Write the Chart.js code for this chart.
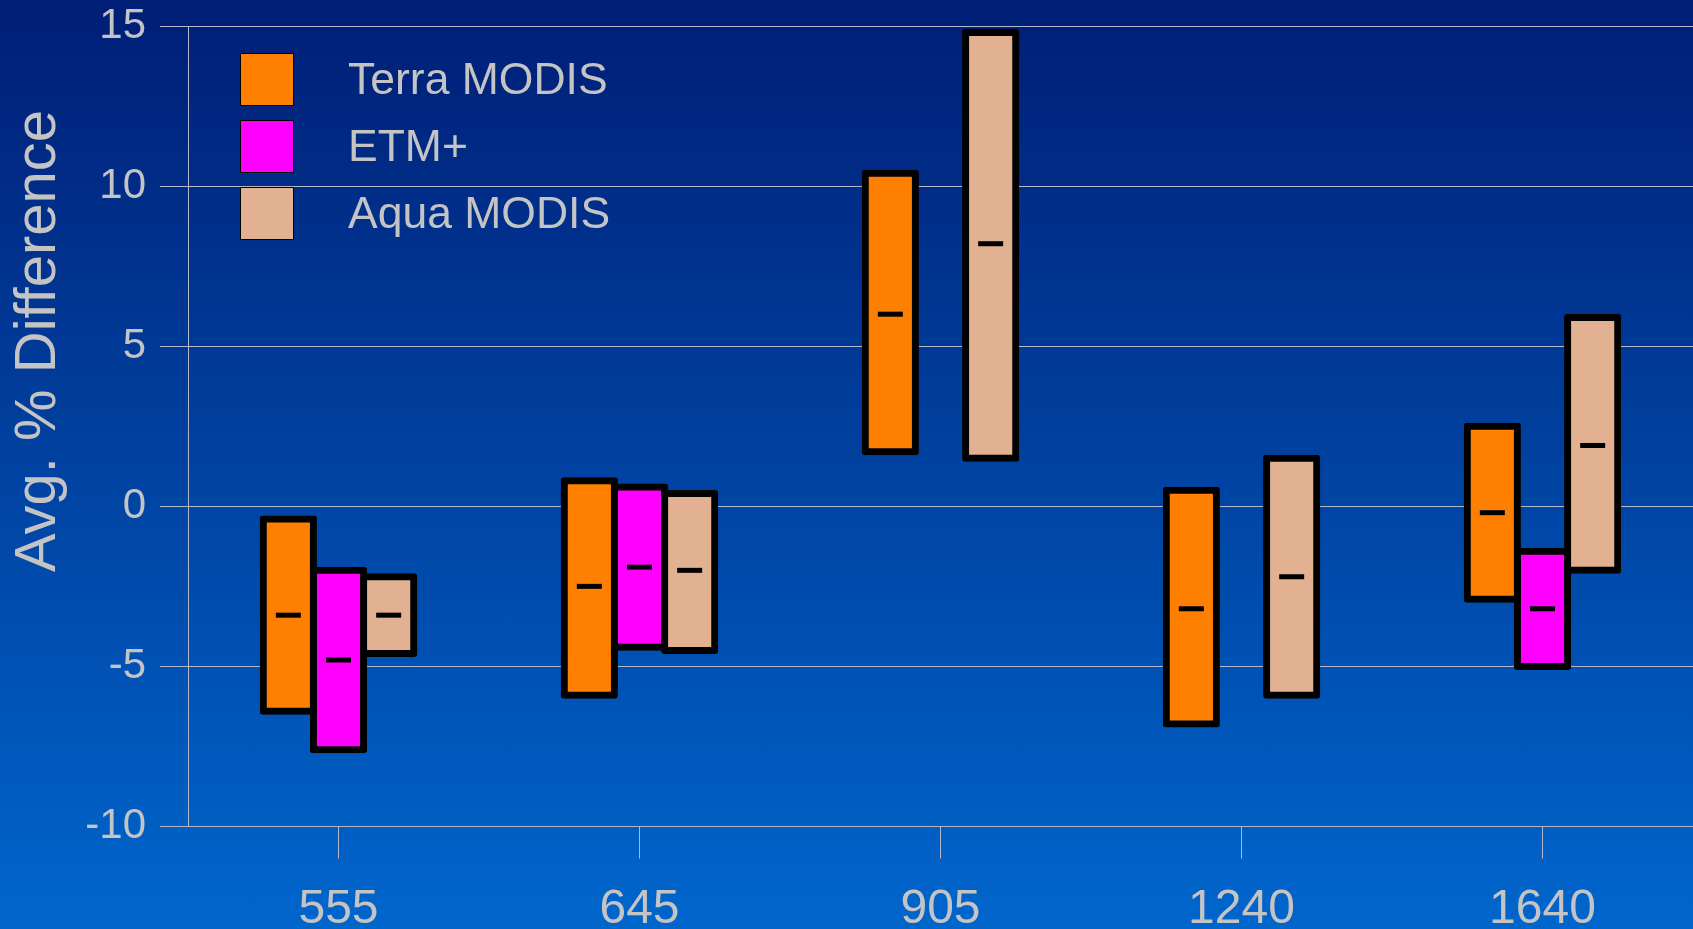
<!DOCTYPE html>
<html>
<head>
<meta charset="utf-8">
<title>Avg. % Difference by band</title>
<script src="https://cdn.jsdelivr.net/npm/chart.js@4.4.1/dist/chart.umd.min.js"></script>
<style>
    html, body { margin: 0; padding: 0; background: #0046a8; }
    #chart {
        display: block;
        background: linear-gradient(to bottom, #001e76 0%, #0066cc 100%);
    }
</style>
</head>
<body>
<canvas id="chart" width="1693" height="929"></canvas>
<script>
// Band centres (nm)
const wavelengths = ['555', '645', '905', '1240', '1640'];

// Range of the percent difference per sensor, plus the average
const terraLow  = [-6.4, -5.9, 1.7, -6.8, -2.9];
const terraHigh = [-0.4, 0.8, 10.4, 0.5, 2.5];
const terraMean = [-3.4, -2.5, 6.0, -3.2, -0.2];

const etmLow  = [-7.6, -4.4, null, null, -5.0];
const etmHigh = [-2.0, 0.6, null, null, -1.4];
const etmMean = [-4.8, -1.9, null, null, -3.2];

const aquaLow  = [-4.6, -4.5, 1.5, -5.9, -2.0];
const aquaHigh = [-2.2, 0.4, 14.8, 1.5, 5.9];
const aquaMean = [-3.4, -2.0, 8.2, -2.2, 1.9];

const yMin = -10, yMax = 15, yStep = 5;

const textColor = '#c4c4c4';
const gridColor = '#b4b8c8';
const fontFamily = "'Liberation Sans', Arial, sans-serif";

const rangeData = (low, high) => low.map((v, i) => (v === null ? null : [v, high[i]]));

// Average markers: short black dash centred on each floating bar
const meanMarks = {
    id: 'meanMarks',
    afterDatasetsDraw(chart) {
        const { ctx } = chart;
        const y = chart.scales.y;
        ctx.save();
        ctx.fillStyle = '#000';
        chart.data.datasets.forEach((ds, i) => {
            const meta = chart.getDatasetMeta(i);
            ds.means.forEach((m, j) => {
                if (m === null) return;
                const bar = meta.data[j];
                ctx.fillRect(bar.x - 12.5, y.getPixelForValue(m) - 2.5, 25, 5);
            });
        });
        ctx.restore();
    }
};

// Boxed legend in the upper left of the plot
const boxLegend = {
    id: 'boxLegend',
    afterDraw(chart) {
        const { ctx } = chart;
        ctx.save();
        ctx.font = `44.5px ${fontFamily}`;
        ctx.textBaseline = 'middle';
        chart.data.datasets.forEach((ds, i) => {
            const top = 53 + i * 67;
            ctx.fillStyle = ds.backgroundColor;
            ctx.fillRect(240, top, 54, 53);
            ctx.strokeStyle = '#000';
            ctx.lineWidth = 1;
            ctx.strokeRect(240.5, top + 0.5, 53, 52);
            ctx.fillStyle = textColor;
            ctx.fillText(ds.label, 348, top + 29);
        });
        ctx.restore();
    }
};

// Rotated y title, sits a bit above the axis middle
const yTitle = {
    id: 'yTitle',
    afterDraw(chart) {
        const { ctx } = chart;
        ctx.save();
        ctx.translate(39, 341);
        ctx.rotate(-Math.PI / 2);
        ctx.font = `58px ${fontFamily}`;
        ctx.fillStyle = textColor;
        ctx.textAlign = 'center';
        ctx.textBaseline = 'middle';
        ctx.fillText('Avg. % Difference', 0, 0);
        ctx.restore();
    }
};

const barStyle = {
    borderColor: '#000',
    borderWidth: 7,
    borderSkipped: false,
    borderRadius: 3,
    inflateAmount: 3.5,
    barPercentage: 1,
    categoryPercentage: 0.5
};

new Chart(document.getElementById('chart'), {
    type: 'bar',
    data: {
        labels: wavelengths,
        datasets: [
            { label: 'Terra MODIS', data: rangeData(terraLow, terraHigh), means: terraMean, backgroundColor: '#ff8000', ...barStyle },
            { label: 'ETM+', data: rangeData(etmLow, etmHigh), means: etmMean, backgroundColor: '#ff00ff', ...barStyle },
            { label: 'Aqua MODIS', data: rangeData(aquaLow, aquaHigh), means: aquaMean, backgroundColor: '#e1b191', ...barStyle }
        ]
    },
    options: {
        responsive: false,
        animation: false,
        layout: { padding: { top: 26, right: 0, bottom: 0, left: 0 } },
        plugins: {
            legend: { display: false },
            tooltip: { enabled: false }
        },
        scales: {
            x: {
                afterFit: scale => { scale.height = 102.5; },
                grid: {
                    offset: false,
                    drawOnChartArea: false,
                    drawTicks: true,
                    tickLength: 32,
                    color: gridColor,
                    lineWidth: 1
                },
                border: { display: true, color: gridColor, width: 1 },
                ticks: {
                    color: textColor,
                    padding: 22,
                    font: { family: fontFamily, size: 48 }
                }
            },
            y: {
                min: yMin,
                max: yMax,
                afterFit: scale => { scale.width = 188; },
                grid: {
                    color: gridColor,
                    lineWidth: 1,
                    tickLength: 28
                },
                border: { display: true, color: gridColor, width: 1 },
                ticks: {
                    stepSize: yStep,
                    color: textColor,
                    padding: 14,
                    // tight line height so the top label does not push the plot down
                    font: { family: fontFamily, size: 42, lineHeight: 0.5 }
                }
            }
        }
    },
    plugins: [meanMarks, boxLegend, yTitle]
});
</script>
</body>
</html>
